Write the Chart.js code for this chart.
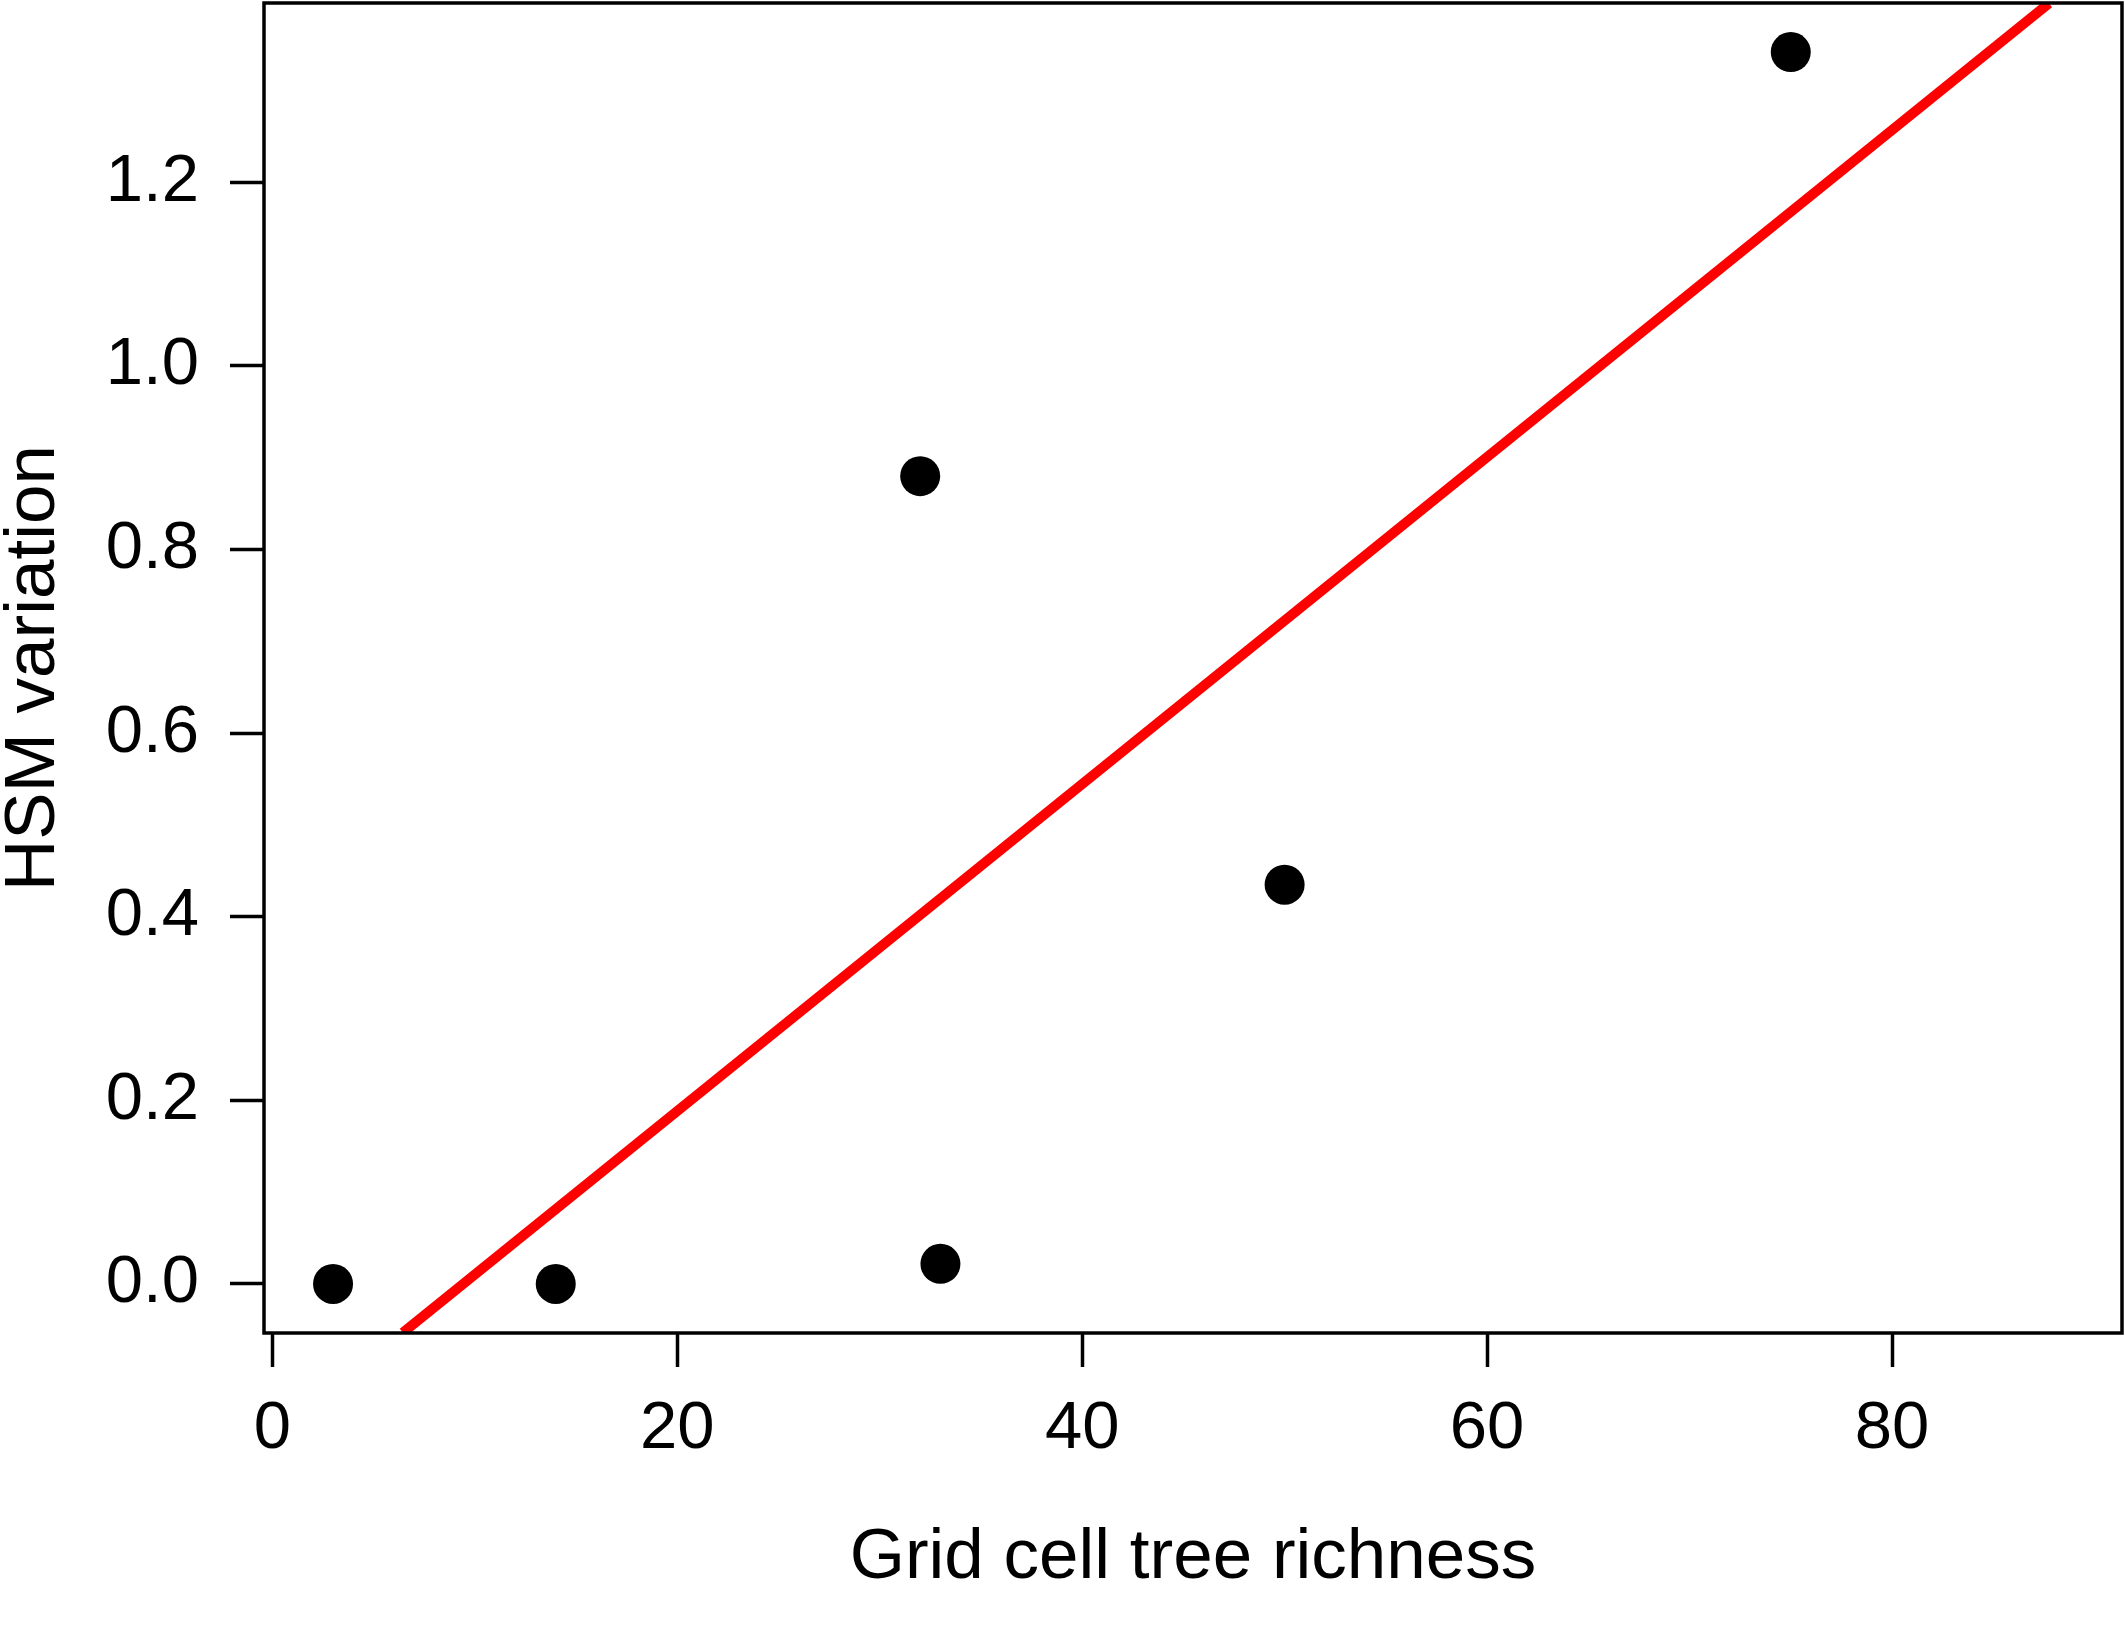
<!DOCTYPE html>
<html>
<head>
<meta charset="utf-8">
<script src="https://cdn.jsdelivr.net/npm/chart.js@4.4.1/dist/chart.umd.min.js"></script>
<style>
  html, body { margin: 0; padding: 0; background: #fff; }
  canvas { display: block; }
</style>
</head>
<body>
<canvas id="chart" width="2125" height="1625"></canvas>
<script>
// observed points
const richness  = [3, 14, 32, 33, 50, 75];
const hsmVar    = [0, 0, 0.88, 0.022, 0.435, 1.342];

// fitted line, read where it meets the plot box
const fitX = [6.45, 87.75];
const fitY = [-0.053, 1.395];

const xTicks = [0, 20, 40, 60, 80];
const yTicks = [0, 0.2, 0.4, 0.6, 0.8, 1.0, 1.2];

const FONT = "'Liberation Sans', Arial, Helvetica, sans-serif";

Chart.defaults.font.family = FONT;
Chart.defaults.color = '#000';

// R-style box around the plot region
const boxPlugin = {
  id: 'box',
  afterDatasetsDraw(chart) {
    const { ctx, chartArea: a } = chart;
    ctx.save();
    ctx.strokeStyle = '#000';
    ctx.lineWidth = 3.5;
    ctx.strokeRect(a.left, a.top, a.right - a.left, a.bottom - a.top);
    ctx.restore();
  }
};

const tickGrid = {
  drawOnChartArea: false,
  drawTicks: true,
  tickLength: 34,
  tickWidth: 3.5,
  tickColor: '#000'
};

new Chart(document.getElementById('chart'), {
  type: 'scatter',
  data: {
    datasets: [
      {
        label: 'fit',
        type: 'line',
        data: fitX.map((x, i) => ({ x, y: fitY[i] })),
        borderColor: '#f00',
        borderWidth: 10,
        pointRadius: 0,
        fill: false,
        order: 2
      },
      {
        label: 'cells',
        data: richness.map((x, i) => ({ x, y: hsmVar[i] })),
        backgroundColor: '#000',
        borderWidth: 0,
        pointRadius: 20,
        order: 1
      }
    ]
  },
  plugins: [boxPlugin],
  options: {
    responsive: false,
    animation: false,
    devicePixelRatio: 1,
    layout: {
      autoPadding: false,
      padding: { top: 3, right: 3, left: 0, bottom: 0 }
    },
    plugins: {
      legend: { display: false },
      tooltip: { enabled: false }
    },
    scales: {
      x: {
        type: 'linear',
        min: -0.41,
        max: 91.36,
        afterBuildTicks: s => { s.ticks = xTicks.map(v => ({ value: v })); },
        afterFit: s => {
          s.height = 292;
          s.paddingLeft = 0;
          s.paddingRight = 0;
        },
        grid: tickGrid,
        border: { display: false },
        ticks: {
          font: { size: 67 },
          padding: 22,
          maxRotation: 0,
          callback: v => String(v)
        },
        title: {
          display: true,
          text: 'Grid cell tree richness',
          font: { size: 71 },
          padding: { top: 0, bottom: 24 }
        }
      },
      y: {
        type: 'linear',
        min: -0.0534,
        max: 1.3954,
        afterBuildTicks: s => { s.ticks = yTicks.map(v => ({ value: v })); },
        afterFit: s => {
          s.width = 264;
          s.paddingTop = 0;
          s.paddingBottom = 0;
        },
        grid: tickGrid,
        border: { display: false },
        ticks: {
          font: { size: 67 },
          padding: 31,
          callback: v => v.toFixed(1)
        },
        title: {
          display: true,
          text: 'HSM variation',
          font: { size: 71, lineHeight: 0.8 },
          padding: { top: 6, bottom: 0 }
        }
      }
    }
  }
});
</script>
</body>
</html>
